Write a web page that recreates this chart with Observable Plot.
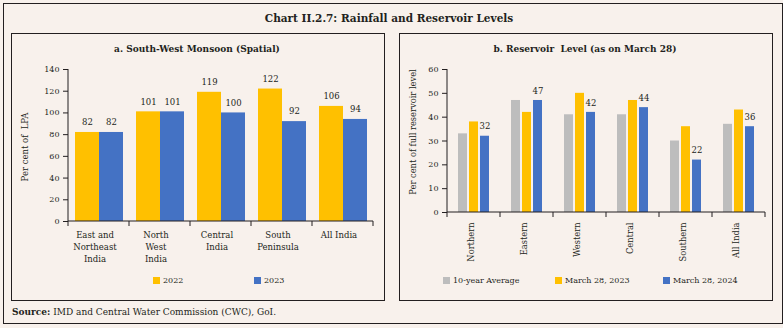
<!DOCTYPE html>
<html><head><meta charset="utf-8">
<script src="https://cdn.jsdelivr.net/npm/d3@7"></script>
<script src="https://cdn.jsdelivr.net/npm/@observablehq/plot@0.6"></script>
<style>
body{margin:0;background:#F8F1EC;}
#fig{position:relative;width:783px;height:328px;background:#F8F1EC;font-family:"DejaVu Serif",serif;color:#231F20;overflow:hidden}
.box{position:absolute;border:1.5px solid #231F20;box-sizing:border-box}
.t{position:absolute;white-space:nowrap;transform:translate(-50%,-50%);line-height:1}
.plot{position:absolute;left:0;top:0}
.leg{position:absolute;white-space:nowrap;font-size:8px;line-height:1}
.sw{position:absolute;width:7px;height:7px}
</style></head><body>
<div id="fig">
 <div class="box" style="left:3px;top:3px;width:780px;height:321px"></div>
 <div class="box" style="left:10.5px;top:33px;width:374px;height:268px"></div>
 <div class="box" style="left:398.5px;top:33px;width:374px;height:268px"></div>
 <div class="t" style="left:389px;top:18px;font-size:10.5px;font-weight:bold">Chart II.2.7: Rainfall and Reservoir Levels</div>
 <div class="t" style="left:197px;top:49px;font-size:9px;font-weight:bold">a. South-West Monsoon (Spatial)</div>
 <div class="t" style="left:585px;top:49px;font-size:9px;font-weight:bold;white-space:pre">b. Reservoir  Level (as on March 28)</div>
 <div class="t" style="left:25px;top:147px;font-size:8.5px;transform:translate(-50%,-50%) rotate(-90deg);white-space:pre">Per cent of  LPA</div>
 <div class="t" style="left:413px;top:132px;font-size:8.3px;transform:translate(-50%,-50%) rotate(-90deg)">Per cent of full reservoir level</div>
 <div class="t" style="left:12px;top:312px;font-size:9px;transform:translate(0,-50%)"><b>Source:</b> IMD and Central Water Commission (CWC), GoI.</div>
 <div id="legL"></div>
 <div id="legR"></div>
</div>
<script>
// ---- Panel a: South-West Monsoon (Spatial) ----
const regions = ["East and\nNortheast\nIndia", "North\nWest\nIndia", "Central\nIndia", "South\nPeninsula", "All India"];
const rainSeries = ["2022", "2023"];
const rain2022 = [82, 101, 119, 122, 106];
const rain2023 = [82, 101, 100, 92, 94];
const rainTicks = [0, 20, 40, 60, 80, 100, 120, 140];
const rainColors = ["#FFC000", "#4472C4"];

// ---- Panel b: Reservoir Level (as on March 28) ----
const zones = ["Northern", "Eastern", "Western", "Central", "Southern", "All India"];
const resSeries = ["10-year Average", "March 28, 2023", "March 28, 2024"];
const resAvg = [33, 47, 41, 41, 30, 37];
const res2023 = [38, 42, 50, 47, 36, 43];
const res2024 = [32, 47, 42, 44, 22, 36];
const resTicks = [0, 10, 20, 30, 40, 50, 60];
const resColors = ["#BDBDBD", "#FFC000", "#4472C4"];

const ink = "#231F20";
const baseStyle = {background: "transparent", fontFamily: "DejaVu Serif", fontSize: "8px", color: ink, overflow: "visible"};

const rainData = regions.flatMap((r, i) => [
  {region: r, series: rainSeries[0], value: rain2022[i]},
  {region: r, series: rainSeries[1], value: rain2023[i]}
]);
const resData = zones.flatMap((z, i) => [
  {zone: z, series: resSeries[0], value: resAvg[i]},
  {zone: z, series: resSeries[1], value: res2023[i]},
  {zone: z, series: resSeries[2], value: res2024[i]}
]);

function addAxes(plot, cats, yTop) {
  const svg = d3.select(plot.tagName.toLowerCase() === "svg" ? plot : plot.querySelector("svg"));
  const fx = plot.scale("fx"), y = plot.scale("y");
  const xs = cats.map(c => fx.apply(c));
  xs.push(xs[xs.length - 1] + fx.bandwidth);
  const g = svg.append("g").attr("stroke", ink).attr("stroke-width", 1);
  const y0 = y.apply(0);
  g.append("line").attr("x1", xs[0]).attr("x2", xs[0]).attr("y1", y0).attr("y2", y.apply(yTop));
  g.append("line").attr("x1", xs[0]).attr("x2", xs[xs.length - 1]).attr("y1", y0).attr("y2", y0);
  xs.forEach(x => g.append("line").attr("x1", x).attr("x2", x).attr("y1", y0).attr("y2", y0 + 5));
}

const left = Plot.plot({
  width: 395, height: 300, marginLeft: 67, marginRight: 22, marginTop: 69, marginBottom: 79,
  style: baseStyle,
  fx: {domain: regions, padding: 0, axis: null},
  x: {domain: rainSeries, paddingInner: 0, paddingOuter: 0.224, axis: null},
  y: {domain: [0, 140], axis: null},
  color: {domain: rainSeries, range: rainColors},
  marks: [
    Plot.barY(rainData, {fx: "region", x: "series", y: "value", fill: "series", insetLeft: 0, insetRight: 0}),
    Plot.text(rainData, {fx: "region", x: "series", y: "value", text: "value", dy: -10, fontSize: 8.5, fill: ink}),
    Plot.axisY({ticks: rainTicks, tickSize: 5, tickPadding: 4, label: null}),
    Plot.text(regions, {fx: d => d, text: d => d, frameAnchor: "bottom", lineAnchor: "top", dy: 8, dx: -4, fontSize: 8.5, lineHeight: 1.41, fill: ink})
  ]
});
left.classList.add("plot");
left.style.position = "absolute"; left.style.left = "0px"; left.style.top = "0px";
document.getElementById("fig").appendChild(left);
addAxes(left, regions, 140);

const right = Plot.plot({
  width: 783, height: 300, marginLeft: 446, marginRight: 17, marginTop: 69, marginBottom: 88,
  style: baseStyle,
  fx: {domain: zones, padding: 0, axis: null},
  x: {domain: resSeries, paddingInner: 0.15, paddingOuter: 0.84, axis: null},
  y: {domain: [0, 60], axis: null},
  color: {domain: resSeries, range: resColors},
  marks: [
    Plot.barY(resData, {fx: "zone", x: "series", y: "value", fill: "series", insetLeft: 0, insetRight: 0}),
    Plot.text(resData.filter(d => d.series === resSeries[2]), {fx: "zone", x: "series", y: "value", text: "value", dy: -9.5, fontSize: 8.5, fill: ink}),
    Plot.axisY({ticks: resTicks, tickSize: 5, tickPadding: 4, label: null}),
    Plot.text(zones, {fx: d => d, text: d => d, frameAnchor: "bottom", rotate: -90, textAnchor: "end", dy: 10, fontSize: 8.3, fill: ink})
  ]
});
right.style.position = "absolute"; right.style.left = "0px"; right.style.top = "0px";
document.getElementById("fig").appendChild(right);
addAxes(right, zones, 60);

// ---- Legends ----
function legend(id, names, colors, swX, txX) {
  const el = document.getElementById(id);
  names.forEach((n, i) => {
    const s = document.createElement("div");
    s.className = "sw"; s.style.left = swX[i] + "px"; s.style.top = "277px"; s.style.background = colors[i];
    const t = document.createElement("div");
    t.className = "leg"; t.style.left = txX[i] + "px"; t.style.top = "276.5px"; t.textContent = n;
    el.appendChild(s); el.appendChild(t);
  });
}
legend("legL", rainSeries, rainColors, [153, 254], [163, 264]);
legend("legR", resSeries, resColors, [443, 555, 663], [453, 565, 673]);
</script>
</body></html>
